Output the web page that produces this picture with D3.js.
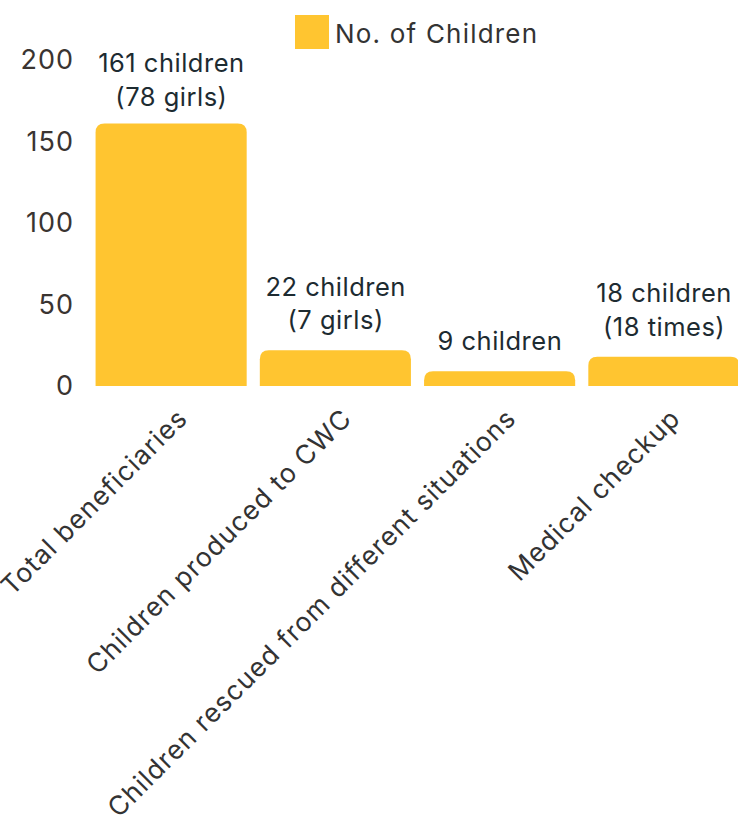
<!DOCTYPE html>
<html><head><meta charset="utf-8">
<script src="https://cdn.jsdelivr.net/npm/d3@7"></script>
<style>body{margin:0;background:#fff}svg{display:block;font-family:Inter,"Noto Sans",sans-serif}</style>
</head><body><svg id="c" width="738" height="815"></svg>
<script>
const categories = ["Total beneficiaries","Children produced to CWC","Children rescued from different situations","Medical checkup"];
const values = [161, 22, 9, 18];
const barLabels = [["161 children","(78 girls)"],["22 children","(7 girls)"],["9 children"],["18 children","(18 times)"]];
const yTicks = [0, 50, 100, 150, 200];
const seriesName = "No. of Children";
const barColor = "#FFC530";

const svg = d3.select("#c");
const x = d3.scaleBand().domain(categories).range([89, 746]).paddingInner(0.08).paddingOuter(0.04);
const y = d3.scaleLinear().domain([0, 200]).range([386, 60]);

function topRounded(x0, y0, w, h, r) {
  r = Math.min(r, h, w/2);
  return `M${x0},${y0+h}V${y0+r}Q${x0},${y0} ${x0+r},${y0}H${x0+w-r}Q${x0+w},${y0} ${x0+w},${y0+r}V${y0+h}Z`;
}

svg.append("g").selectAll("path").data(categories).join("path")
  .attr("d", (d,i) => topRounded(x(d), y(values[i]), x.bandwidth(), y(0)-y(values[i]), 9))
  .attr("fill", barColor);

// y tick labels
const yAxis = svg.append("g").attr("transform","translate(74,0)")
  .call(d3.axisLeft(y).tickValues(yTicks).tickSize(0).tickPadding(0));
yAxis.select(".domain").remove();
yAxis.selectAll("text").attr("font-size", 27).attr("letter-spacing", 1).attr("fill", "#3a3431").attr("font-family","Inter");

// x labels
const xAxis = svg.append("g").attr("transform","translate(0,386)")
  .call(d3.axisBottom(x).tickSize(0).tickPadding(0));
xAxis.select(".domain").remove();
xAxis.selectAll("text")
  .attr("font-size", 26.5).attr("letter-spacing", 1.05).attr("fill", "#333").attr("font-family","Inter")
  .attr("text-anchor","end")
  .attr("dy", null).attr("y", 0)
  .attr("transform", "translate(18,34) rotate(-45)");

// bar value labels (clamped so they stay below the legend)
const lg = svg.append("g");
const lineGap = 33.5, barGap = 21, minFirstBaseline = 72;
categories.forEach((c,i) => {
  const lines = barLabels[i];
  const cx = x(c) + x.bandwidth()/2;
  let first = y(values[i]) - barGap - (lines.length-1)*lineGap;
  if (first < minFirstBaseline) first = minFirstBaseline;
  lines.forEach((t,j) => {
    lg.append("text").attr("x", cx + 0.25).attr("y", first + j*lineGap)
      .attr("text-anchor","middle").attr("font-size", 25.5).attr("letter-spacing", 0.5).attr("fill","#1d2b31")
      .text(t);
  });
});

// legend
const leg = svg.append("g");
leg.append("rect").attr("x",295).attr("y",15).attr("width",34).attr("height",34).attr("fill",barColor);
leg.append("text").attr("x",335).attr("y",42.5).attr("font-size",26).attr("letter-spacing",1.2).attr("fill","#333").text(seriesName);
</script></body></html>
